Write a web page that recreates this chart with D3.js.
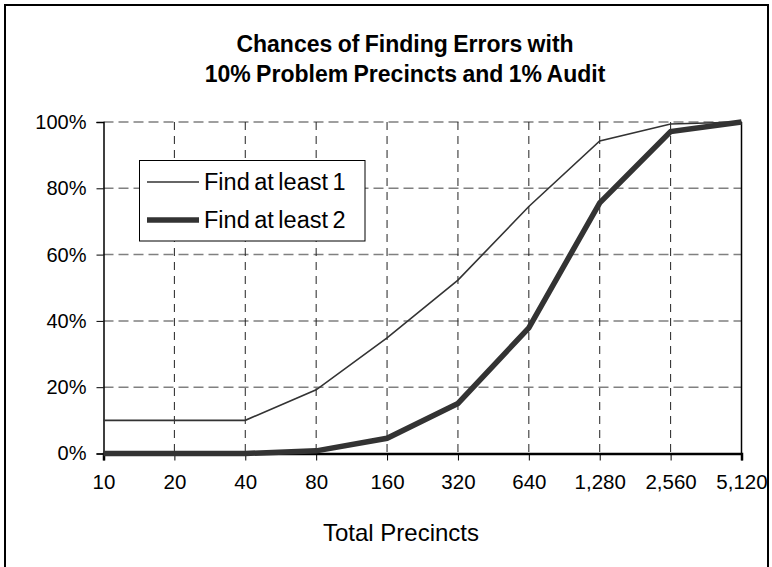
<!DOCTYPE html>
<html><head><meta charset="utf-8">
<script src="https://cdn.jsdelivr.net/npm/d3@7"></script>
<style>
html,body{margin:0;padding:0;background:#fff;}
svg{display:block;font-family:"Liberation Sans",Arial,sans-serif;}
</style></head>
<body><svg id="c" width="772" height="567"></svg>
<script>
const categories = ["10","20","40","80","160","320","640","1,280","2,560","5,120"];
const findAtLeast1 = [10,10,10,19.2,34.9,52.3,74.5,94.3,99.4,100];
const findAtLeast2 = [0,0,0,0.8,4.6,15.1,37.9,75.6,97.1,100];
const yTicks = [0,20,40,60,80,100];
const seriesNames = ["Find at least 1","Find at least 2"];
const titleLines = ["Chances of Finding Errors with","10% Problem Precincts and 1% Audit"];
const xTitle = "Total Precincts";

const svg = d3.select("#c");
// outer chart border
svg.append("rect").attr("x",5).attr("y",5).attr("width",763).attr("height",600)
  .attr("fill","none").attr("stroke","#000").attr("stroke-width",2);

const L=103.5,R=741.5,T=122,B=453.5;
const x = d3.scalePoint().domain(categories).range([L,R]);
const y = d3.scaleLinear().domain([0,100]).range([B,T]);

// horizontal gridlines
svg.append("g").selectAll("line").data(yTicks.filter(d=>d>0)).join("line")
  .attr("x1",L).attr("x2",R).attr("y1",d=>y(d)).attr("y2",d=>y(d))
  .attr("stroke","#808080").attr("stroke-width",1.5).attr("stroke-dasharray","10,5");
// vertical gridlines
svg.append("g").selectAll("line").data(categories.slice(1,-1)).join("line")
  .attr("x1",d=>x(d)).attr("x2",d=>x(d)).attr("y1",T).attr("y2",B)
  .attr("stroke","#222").attr("stroke-width",1).attr("stroke-dasharray","8,6");
// right edge of plot
svg.append("line").attr("x1",R).attr("x2",R).attr("y1",T).attr("y2",B)
  .attr("stroke","#000").attr("stroke-width",1.5);

// y axis
const yAxis = svg.append("g").attr("transform",`translate(${L},0)`)
  .call(d3.axisLeft(y).tickValues(yTicks).tickFormat(d=>d+"%").tickSize(7).tickPadding(10));
yAxis.select(".domain").attr("stroke","#000").attr("stroke-width",1.5);
yAxis.selectAll(".tick line").attr("stroke","#000").attr("stroke-width",1);
yAxis.selectAll("text").attr("font-size",20).attr("fill","#000").attr("font-family","Liberation Sans, Arial, sans-serif");

// x axis
const xAxis = svg.append("g").attr("transform",`translate(0,${B})`)
  .call(d3.axisBottom(x).tickSize(7).tickPadding(14));
xAxis.select(".domain").attr("stroke","#000").attr("stroke-width",2.5);
xAxis.selectAll(".tick line").attr("stroke","#000").attr("stroke-width",1);
xAxis.selectAll("text").attr("font-size",20.5).attr("fill","#000").attr("font-family","Liberation Sans, Arial, sans-serif");

// lines
const line = d3.line().x((d,i)=>x(categories[i])).y(d=>y(d));
svg.append("path").datum(findAtLeast1).attr("d",line).attr("fill","none")
  .attr("stroke","#333").attr("stroke-width",1.6).attr("stroke-linejoin","miter");
svg.append("path").datum(findAtLeast2).attr("d",line).attr("fill","none")
  .attr("stroke","#333").attr("stroke-width",5.5).attr("stroke-linejoin","miter");

// legend
const lg = svg.append("g");
lg.append("rect").attr("x",139.5).attr("y",160.5).attr("width",225.5).attr("height",80.5)
  .attr("fill","#fff").attr("stroke","#000").attr("stroke-width",1);
const lrow = [182,220], lw=[1.6,5.5];
seriesNames.forEach((n,i)=>{
  lg.append("line").attr("x1",147).attr("x2",199).attr("y1",lrow[i]).attr("y2",lrow[i])
    .attr("stroke","#333").attr("stroke-width",lw[i]);
  lg.append("text").attr("x",204).attr("y",lrow[i]+8).attr("font-size",23.5)
    .attr("word-spacing",-2).attr("fill","#000").text(n);
});

// title
svg.append("g").selectAll("text").data(titleLines).join("text")
  .attr("x",405).attr("y",(d,i)=>52+i*30).attr("text-anchor","middle")
  .attr("font-size",23).attr("font-weight","bold").attr("word-spacing",-1).attr("fill","#000").text(d=>d);

// x title
svg.append("text").attr("x",401).attr("y",541).attr("text-anchor","middle")
  .attr("font-size",24).attr("fill","#000").text(xTitle);
</script></body></html>
